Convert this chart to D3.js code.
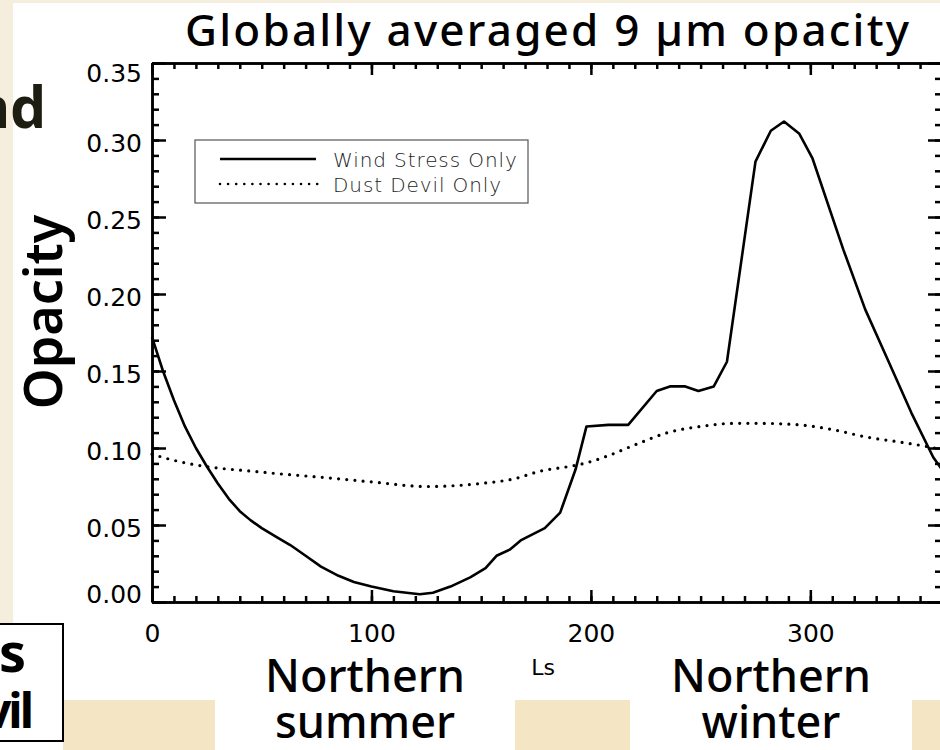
<!DOCTYPE html>
<html lang="en">
<head>
<meta charset="utf-8">
<title>Globally averaged 9 µm opacity</title>
<script src="https://cdn.jsdelivr.net/npm/d3@7/dist/d3.min.js"></script>
<style>
  body { margin: 0; background: #fff; }
</style>
</head>
<body>
<script>

var w = 940;
var h = 750;

// wind stress only (solid)
var windLs  = [0, 5, 10, 15, 20, 25, 30, 35, 40, 45, 50, 57, 63, 70, 77, 85, 92, 100, 110, 122, 128, 136, 145, 152, 157, 163, 168, 179, 186, 193, 198, 208, 217, 230, 236, 243, 249, 256, 262, 275, 282, 288, 295, 301, 315, 325, 336, 346, 356, 360];
var windTau = [0.172, 0.150, 0.131, 0.114, 0.100, 0.088, 0.077, 0.067, 0.059, 0.053, 0.048, 0.042, 0.037, 0.030, 0.023, 0.017, 0.013, 0.010, 0.007, 0.005, 0.006, 0.010, 0.016, 0.022, 0.030, 0.034, 0.040, 0.048, 0.058, 0.086, 0.114, 0.115, 0.115, 0.137, 0.140, 0.140, 0.137, 0.140, 0.156, 0.286, 0.306, 0.312, 0.304, 0.288, 0.229, 0.190, 0.155, 0.123, 0.094, 0.086];

// dust devil only (dotted)
var devilLs  = [0, 10, 20, 30, 45, 60, 77, 100, 125, 150, 165, 177, 190, 197, 206, 220, 235, 250, 265, 277, 295, 310, 326, 340, 353, 360];
var devilTau = [0.096, 0.092, 0.089, 0.087, 0.085, 0.083, 0.081, 0.078, 0.075, 0.077, 0.080, 0.085, 0.088, 0.090, 0.094, 0.102, 0.110, 0.114, 0.116, 0.116, 0.115, 0.112, 0.107, 0.104, 0.101, 0.099];

var seriesNames = ["Wind Stress Only", "Dust Devil Only"];
var xTicks = [0, 100, 200, 300];
var yTicks = [0, 0.05, 0.10, 0.15, 0.20, 0.25, 0.30, 0.35];

var svg = d3.select("body").append("svg")
    .attr("width", w)
    .attr("height", h)
    .style("display", "block");

// slide background pieces
svg.append("rect").attr("x", 0).attr("y", 0).attr("width", w).attr("height", 3).attr("fill", "#f5eedc");
svg.append("rect").attr("x", 0).attr("y", 0).attr("width", 13).attr("height", 623).attr("fill", "#f5eedc");
[[63, 152], [515, 115], [912, 28]].forEach(function (r) {
    svg.append("rect").attr("x", r[0]).attr("y", 700).attr("width", r[1]).attr("height", 50).attr("fill", "#f4e5c4");
});

var x = d3.scaleLinear().domain([0, 360]).range([152, 942]);
var y = d3.scaleLinear().domain([0, 0.35]).range([602, 63]);

var axisW = 2.5;

function styleAxis(g) {
    g.select(".domain").attr("stroke", "#000").attr("stroke-width", axisW);
    g.selectAll(".tick line").attr("stroke", "#000").attr("stroke-width", axisW);
    g.selectAll("text")
        .attr("fill", "#000")
        .attr("font-family", "DejaVu Sans, sans-serif")
        .attr("font-size", 25);
}

var yMinor = d3.range(0, 36).map(function (i) { return i / 100; });
var xMinor = d3.range(0, 37).map(function (i) { return i * 10; });

// minor ticks
svg.append("g").attr("transform", "translate(152,0)")
    .call(d3.axisLeft(y).tickValues(yMinor).tickSize(-7).tickFormat("").tickSizeOuter(0)).call(styleAxis);
svg.append("g").attr("transform", "translate(942,0)")
    .call(d3.axisRight(y).tickValues(yMinor).tickSize(-7).tickFormat("").tickSizeOuter(0)).call(styleAxis);
svg.append("g").attr("transform", "translate(0,602)")
    .call(d3.axisBottom(x).tickValues(xMinor).tickSize(-6).tickFormat("").tickSizeOuter(0)).call(styleAxis);
svg.append("g").attr("transform", "translate(0,63)")
    .call(d3.axisTop(x).tickValues(xMinor).tickSize(-6).tickFormat("").tickSizeOuter(0)).call(styleAxis);

// major ticks + labels
var yAxis = svg.append("g").attr("transform", "translate(152,0)")
    .call(d3.axisLeft(y).tickValues(yTicks).tickSize(-14).tickPadding(10).tickFormat(d3.format(".2f")).tickSizeOuter(0))
    .call(styleAxis);
yAxis.selectAll("text").attr("transform", function (d) {
    var s = 3;
    if (d === 0.35) s = 10;
    if (d === 0) s = -8;
    return "translate(0," + s + ")";
});
svg.append("g").attr("transform", "translate(942,0)")
    .call(d3.axisRight(y).tickValues(yTicks).tickSize(-14).tickFormat("").tickSizeOuter(0)).call(styleAxis);
svg.append("g").attr("transform", "translate(0,602)")
    .call(d3.axisBottom(x).tickValues(xTicks).tickSize(-12).tickPadding(22).tickFormat(d3.format("d")).tickSizeOuter(0))
    .call(styleAxis);
svg.append("g").attr("transform", "translate(0,63)")
    .call(d3.axisTop(x).tickValues(xTicks).tickSize(-12).tickFormat("").tickSizeOuter(0)).call(styleAxis);

// data lines
var line = d3.line()
    .x(function (d) { return x(d[0]); })
    .y(function (d) { return y(d[1]); });

svg.append("path")
    .datum(d3.zip(windLs, windTau))
    .attr("fill", "none")
    .attr("stroke", "#000")
    .attr("stroke-width", 2.6)
    .attr("stroke-linejoin", "round")
    .attr("d", line.curve(d3.curveLinear));

svg.append("path")
    .datum(d3.zip(devilLs, devilTau))
    .attr("fill", "none")
    .attr("stroke", "#000")
    .attr("stroke-width", 3.2)
    .attr("stroke-linecap", "round")
    .attr("stroke-dasharray", "0,8.2")
    .attr("d", line.curve(d3.curveMonotoneX));

// legend
var leg = svg.append("g");
leg.append("rect")
    .attr("x", 195).attr("y", 140).attr("width", 333).attr("height", 63)
    .attr("fill", "#fff").attr("stroke", "#555").attr("stroke-width", 1.2);
leg.append("line").attr("x1", 220).attr("x2", 316).attr("y1", 159).attr("y2", 159)
    .attr("stroke", "#000").attr("stroke-width", 2.6);
leg.append("line").attr("x1", 220).attr("x2", 318).attr("y1", 184).attr("y2", 184)
    .attr("stroke", "#000").attr("stroke-width", 2.6)
    .attr("stroke-linecap", "round").attr("stroke-dasharray", "0,8.1");
leg.selectAll("text.leg")
    .data(seriesNames)
    .enter().append("text")
    .attr("class", "leg")
    .attr("x", 333)
    .attr("y", function (d, i) { return 167 + i * 25; })
    .attr("font-family", "DejaVu Sans, sans-serif")
    .attr("font-weight", 300)
    .attr("font-size", 20)
    .attr("letter-spacing", 0.9)
    .attr("fill", "#222")
    .text(function (d) { return d; });

// titles
var bigFont = "Noto Sans, sans-serif";
svg.append("text")
    .attr("x", 547).attr("y", 46)
    .attr("text-anchor", "middle")
    .attr("font-family", bigFont).attr("font-weight", 500).attr("font-size", 44)
    .attr("textLength", 724).attr("lengthAdjust", "spacing")
    .text("Globally averaged 9 µm opacity");

svg.append("text")
    .attr("transform", "translate(62,312) rotate(-90)")
    .attr("text-anchor", "middle")
    .attr("font-family", bigFont).attr("font-weight", 600).attr("font-size", 52)
    .text("Opacity");

svg.append("text")
    .attr("x", 543).attr("y", 675)
    .attr("text-anchor", "middle")
    .attr("font-family", "DejaVu Sans, sans-serif").attr("font-size", 22)
    .text("Ls");

[["Northern", "summer", 365], ["Northern", "winter", 771]].forEach(function (s) {
    svg.append("text").attr("x", s[2]).attr("y", 692).attr("text-anchor", "middle")
        .attr("font-family", bigFont).attr("font-weight", 500).attr("font-size", 45).text(s[0]);
    svg.append("text").attr("x", s[2]).attr("y", 738).attr("text-anchor", "middle")
        .attr("font-family", bigFont).attr("font-weight", 500).attr("font-size", 45).text(s[1]);
});

// cropped slide text on the left
svg.append("text").attr("x", 46).attr("y", 128).attr("text-anchor", "end")
    .attr("font-family", bigFont).attr("font-weight", 700).attr("font-size", 57)
    .attr("fill", "#1d1d12").text("nd");

svg.append("rect").attr("x", -2).attr("y", 624).attr("width", 65).attr("height", 117)
    .attr("fill", "#fff").attr("stroke", "#000").attr("stroke-width", 2);
svg.append("text").attr("x", 26).attr("y", 672).attr("text-anchor", "end")
    .attr("font-family", bigFont).attr("font-weight", 700).attr("font-size", 54).text("s");
svg.append("text").attr("x", 31).attr("y", 728).attr("text-anchor", "end")
    .attr("font-family", bigFont).attr("font-weight", 700).attr("font-size", 48)
    .attr("letter-spacing", -3).text("vil");

</script>
</body>
</html>
